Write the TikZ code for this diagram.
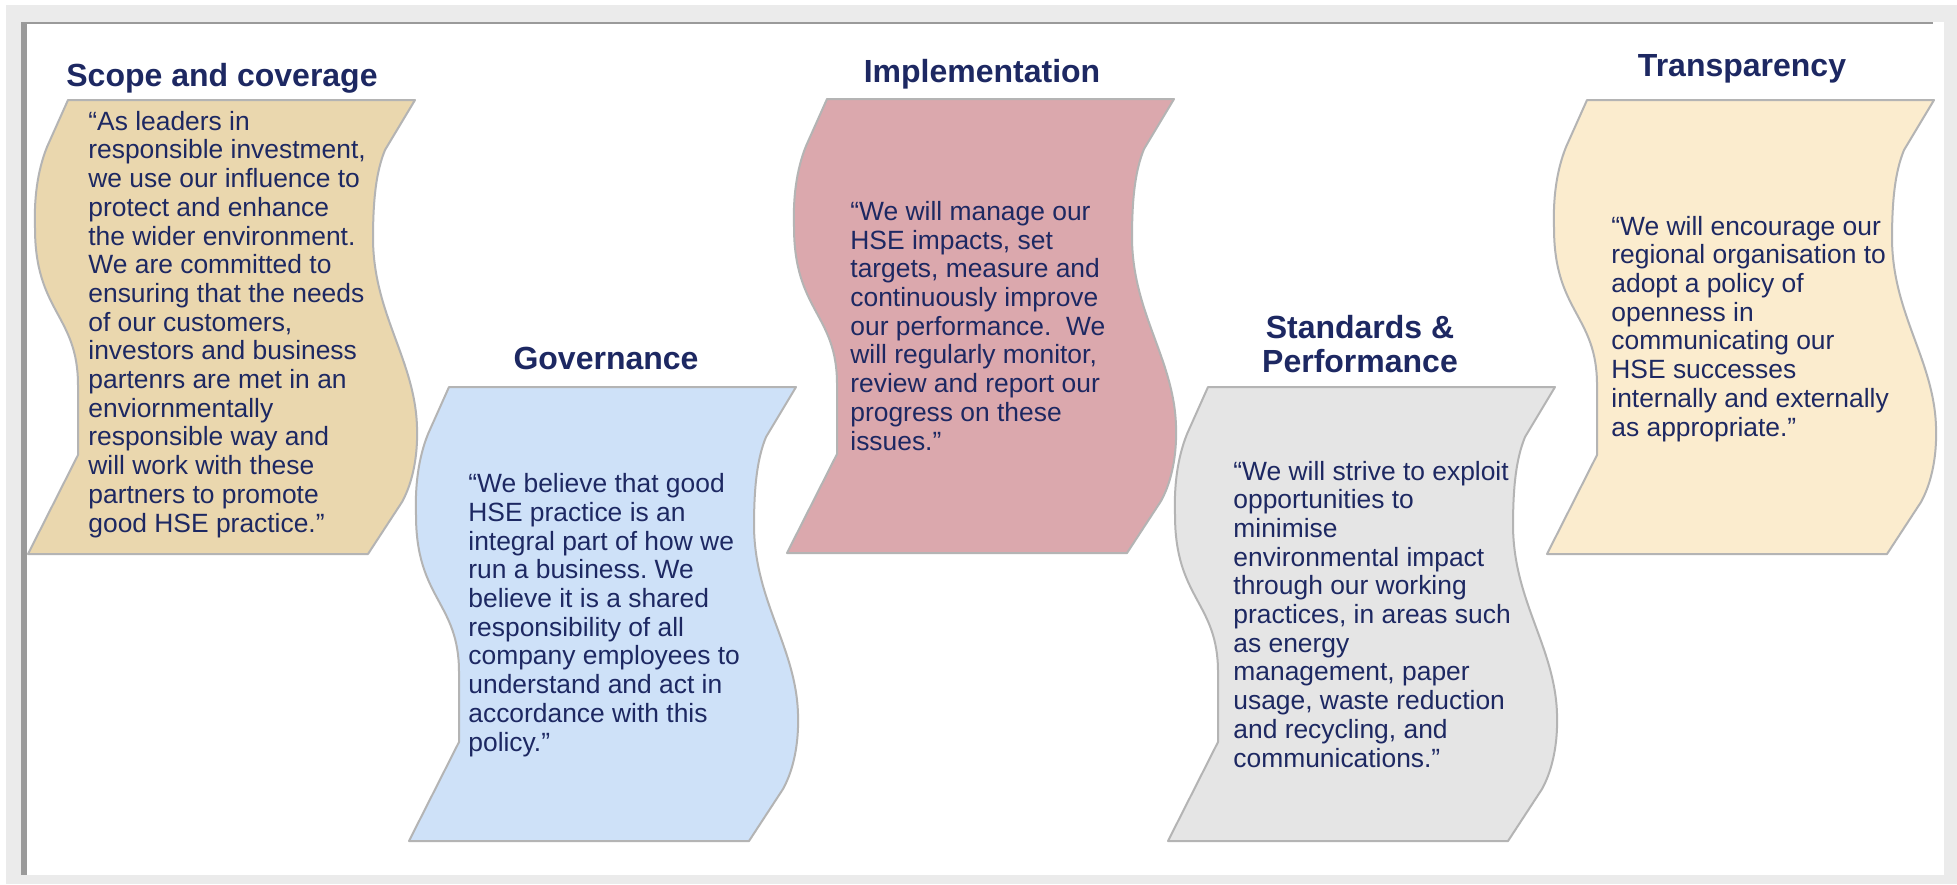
\documentclass[tikz,border=0pt]{standalone}
\usepackage{fontspec}
\setmainfont{Liberation Sans}
\usepackage{xcolor}
\usepackage{tikz}
\frenchspacing

\definecolor{navy}{RGB}{29,40,98}
\definecolor{framegray}{RGB}{235,235,235}
\definecolor{edgegray}{RGB}{154,154,154}
\definecolor{waveline}{RGB}{180,180,180}
\definecolor{tanfill}{RGB}{234,215,174}
\definecolor{bluefill}{RGB}{206,225,248}
\definecolor{redfill}{RGB}{219,168,173}
\definecolor{grayfill}{RGB}{229,229,229}
\definecolor{creamfill}{RGB}{251,236,206}

\newcommand{\scrollpath}{(0,0) -- (-21,47) .. controls (-31,72) and (-34,100) .. (-33,128)
  .. controls (-33,212) and (10,215) .. (10,285) -- (10,355) -- (-40,454) -- (300,454)
  -- (334,402) .. controls (345,382) and (350,355) .. (349,327)
  .. controls (347,260) and (306,215) .. (305,140) .. controls (305,100) and (308,72) .. (317,50)
  -- (347,0) -- cycle}

\begin{document}
\begin{tikzpicture}[x=0.5pt, y=-0.5pt,
    wave/.style={draw=waveline, line width=1pt, line join=round},
    heading/.style={font=\fontsize{16}{17}\selectfont\bfseries, text=navy, align=center, anchor=base, inner sep=0pt},
    quotetext/.style={font=\fontsize{13.2}{14.35}\selectfont, text=navy, align=left, anchor=base west, inner sep=0pt}]
    \useasboundingbox (0,0) rectangle (1957,884);

    % frame
    \fill[white] (0,0) rectangle (1957,884);
    \fill[framegray] (6,5) rectangle (1957,884);
    \fill[white] (22,22) rectangle (1944,875);
    \draw[edgegray, line width=1.4pt] (22,23) -- (1933,23);
    \draw[edgegray, line width=2.8pt] (24,22) -- (24,875);

    % scrolls
    \draw[wave, fill=tanfill, shift={(68,100)}] \scrollpath;
    \draw[wave, fill=bluefill, shift={(449,387)}] \scrollpath;
    \draw[wave, fill=redfill, shift={(827,99)}] \scrollpath;
    \draw[wave, fill=grayfill, shift={(1208,387)}] \scrollpath;
    \draw[wave, fill=creamfill, shift={(1587,100)}] \scrollpath;

    % base anchor sits on the last line
    \node[heading] (head1) at (222,86) {Scope and coverage};
    \node[heading] (head2) at (606,369) {Governance};
    \node[heading] (head3) at (982,82) {Implementation};
    \node[heading] (head4) at (1360,372) {Standards \&\\Performance};
    \node[heading] (head5) at (1742,76) {Transparency};

    \node[quotetext] (quote1) at (88,532) {“As leaders in\\responsible investment,\\we use our influence to\\protect and enhance\\the wider environment.\\We are committed to\\ensuring that the needs\\of our customers,\\investors and business\\partenrs are met in an\\enviornmentally\\responsible way and\\will work with these\\partners to promote\\good HSE practice.”};

    \node[quotetext] (quote2) at (468,751) {“We believe that good\\HSE practice is an\\integral part of how we\\run a business. We\\believe it is a shared\\responsibility of all\\company employees to\\understand and act in\\accordance with this\\policy.”};

    \node[quotetext] (quote3) at (850,450) {“We will manage our\\HSE impacts, set\\targets, measure and\\continuously improve\\our performance.~ We\\will regularly monitor,\\review and report our\\progress on these\\issues.”};

    \node[quotetext] (quote4) at (1233,767) {“We will strive to exploit\\opportunities to\\minimise\\environmental impact\\through our working\\practices, in areas such\\as energy\\management, paper\\usage, waste reduction\\and recycling, and\\communications.”};

    \node[quotetext] (quote5) at (1611,436) {“We will encourage our\\regional organisation to\\adopt a policy of\\openness in\\communicating our\\HSE successes\\internally and externally\\as appropriate.”};

  \end{tikzpicture}
\end{document}
